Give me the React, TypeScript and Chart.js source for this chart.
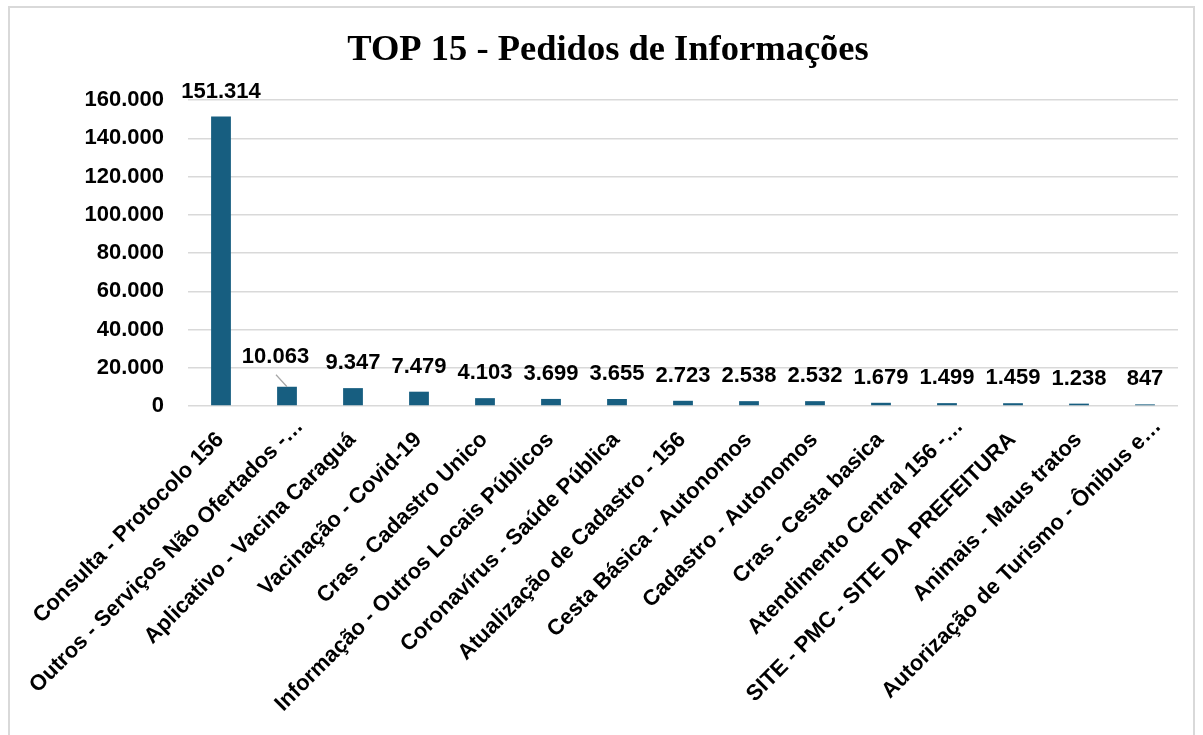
import React, { useEffect, useRef } from "react";
import { Chart, registerables } from "chart.js";

Chart.register(...registerables);

const TITLE = "TOP 15 - Pedidos de Informações";

const categories: string[] = [
  "Consulta - Protocolo 156",
  "Outros - Serviços Não Ofertados -…",
  "Aplicativo - Vacina Caraguá",
  "Vacinação - Covid-19",
  "Cras - Cadastro Unico",
  "Informação - Outros Locais Públicos",
  "Coronavírus - Saúde Pública",
  "Atualização de Cadastro - 156",
  "Cesta Básica - Autonomos",
  "Cadastro - Autonomos",
  "Cras - Cesta basica",
  "Atendimento Central 156 -…",
  "SITE - PMC - SITE DA PREFEITURA",
  "Animais - Maus tratos",
  "Autorização de Turismo - Ônibus e…",
];

const pedidos: number[] = [
  151314, 10063, 9347, 7479, 4103, 3699, 3655, 2723, 2538, 2532, 1679, 1499,
  1459, 1238, 847,
];

const Y_MIN = 0;
const Y_MAX = 160000;
const Y_STEP = 20000;

const fmt = (n: number) =>
  Math.round(n)
    .toString()
    .replace(/\B(?=(\d{3})+(?!\d))/g, ".");

const SANS = "'Liberation Sans', Arial, sans-serif";
const SERIF = "'Liberation Serif', 'Times New Roman', serif";

const titlePlugin = {
  id: "customTitle",
  afterDraw(chart: any) {
    const ctx = chart.ctx;
    ctx.save();
    ctx.font = `bold 36.5px ${SERIF}`;
    ctx.fillStyle = "#000000";
    ctx.textAlign = "center";
    ctx.textBaseline = "alphabetic";
    ctx.fillText(TITLE, 598, 52);
    ctx.restore();
  },
};

const xLabelPlugin = {
  id: "xLabels",
  afterDraw(chart: any) {
    const ctx = chart.ctx;
    const xs = chart.scales.x;
    const bottom = chart.chartArea.bottom;
    ctx.save();
    ctx.font = `bold 22px ${SANS}`;
    ctx.fillStyle = "#000000";
    ctx.textAlign = "right";
    ctx.textBaseline = "middle";
    categories.forEach((lab, i) => {
      const x = xs.getPixelForValue(i);
      const shift = lab.endsWith("…") ? 19 : 0;
      ctx.save();
      ctx.translate(x - 10, bottom + 21);
      ctx.rotate(-Math.PI / 4);
      ctx.fillText(lab, shift, 13.2);
      ctx.restore();
    });
    ctx.restore();
  },
};

const dataLabelPlugin = {
  id: "dataLabels",
  afterDatasetsDraw(chart: any) {
    const ctx = chart.ctx;
    const meta = chart.getDatasetMeta(0);
    const ds = chart.data.datasets[0];
    ctx.save();
    ctx.font = `bold 22px ${SANS}`;
    ctx.fillStyle = "#000000";
    ctx.textAlign = "center";
    ctx.textBaseline = "middle";
    meta.data.forEach((bar: any, i: number) => {
      const v = ds.data[i] as number;
      let x = bar.x;
      let y = bar.y - 25;
      if (i === 1) {
        x = bar.x - 11.5;
        y = bar.y - 30;
        ctx.save();
        ctx.strokeStyle = "#a6a6a6";
        ctx.lineWidth = 1.2;
        ctx.beginPath();
        ctx.moveTo(bar.x - 11, bar.y - 12);
        ctx.lineTo(bar.x, bar.y);
        ctx.stroke();
        ctx.restore();
      }
      ctx.fillText(fmt(v), x, y);
    });
    ctx.restore();
  },
};

export default function App() {
  const canvasRef = useRef<HTMLCanvasElement | null>(null);

  useEffect(() => {
    if (!canvasRef.current) return;
    const chart = new Chart(canvasRef.current, {
      type: "bar",
      data: {
        labels: categories,
        datasets: [
          {
            label: "Pedidos",
            data: pedidos,
            backgroundColor: "#175E80",
            barPercentage: 0.3,
            categoryPercentage: 1,
          },
        ],
      },
      options: {
        animation: false,
        responsive: false,
        maintainAspectRatio: false,
        layout: { padding: { left: 0, right: 15, top: 92, bottom: 0 } },
        plugins: {
          legend: { display: false },
          tooltip: { enabled: false },
          title: { display: false },
        },
        scales: {
          x: {
            grid: { display: false, drawTicks: false },
            border: { display: false },
            ticks: { display: false, autoSkip: false },
            afterFit: (s: any) => {
              s.height = 329;
            },
          },
          y: {
            min: Y_MIN,
            max: Y_MAX,
            grid: { color: "#d9d9d9", lineWidth: 1.5, drawTicks: false },
            border: { display: false },
            ticks: {
              stepSize: Y_STEP,
              padding: 24,
              color: "#000000",
              font: { family: SANS, size: 22, weight: "bold" },
              callback: (v: any) => fmt(Number(v)),
            },
            afterFit: (s: any) => {
              s.width = 178;
            },
          },
        },
      },
      plugins: [dataLabelPlugin, xLabelPlugin, titlePlugin],
    });
    return () => chart.destroy();
  }, []);

  return (
    <div
      style={{
        position: "absolute",
        left: 8,
        top: 6,
        width: 1187,
        height: 729,
        boxSizing: "border-box",
        border: "2px solid #d9d9d9",
        borderBottom: "none",
        background: "#ffffff",
      }}
    >
      <canvas ref={canvasRef} width={1183} height={727} style={{ display: "block" }} />
    </div>
  );
}
